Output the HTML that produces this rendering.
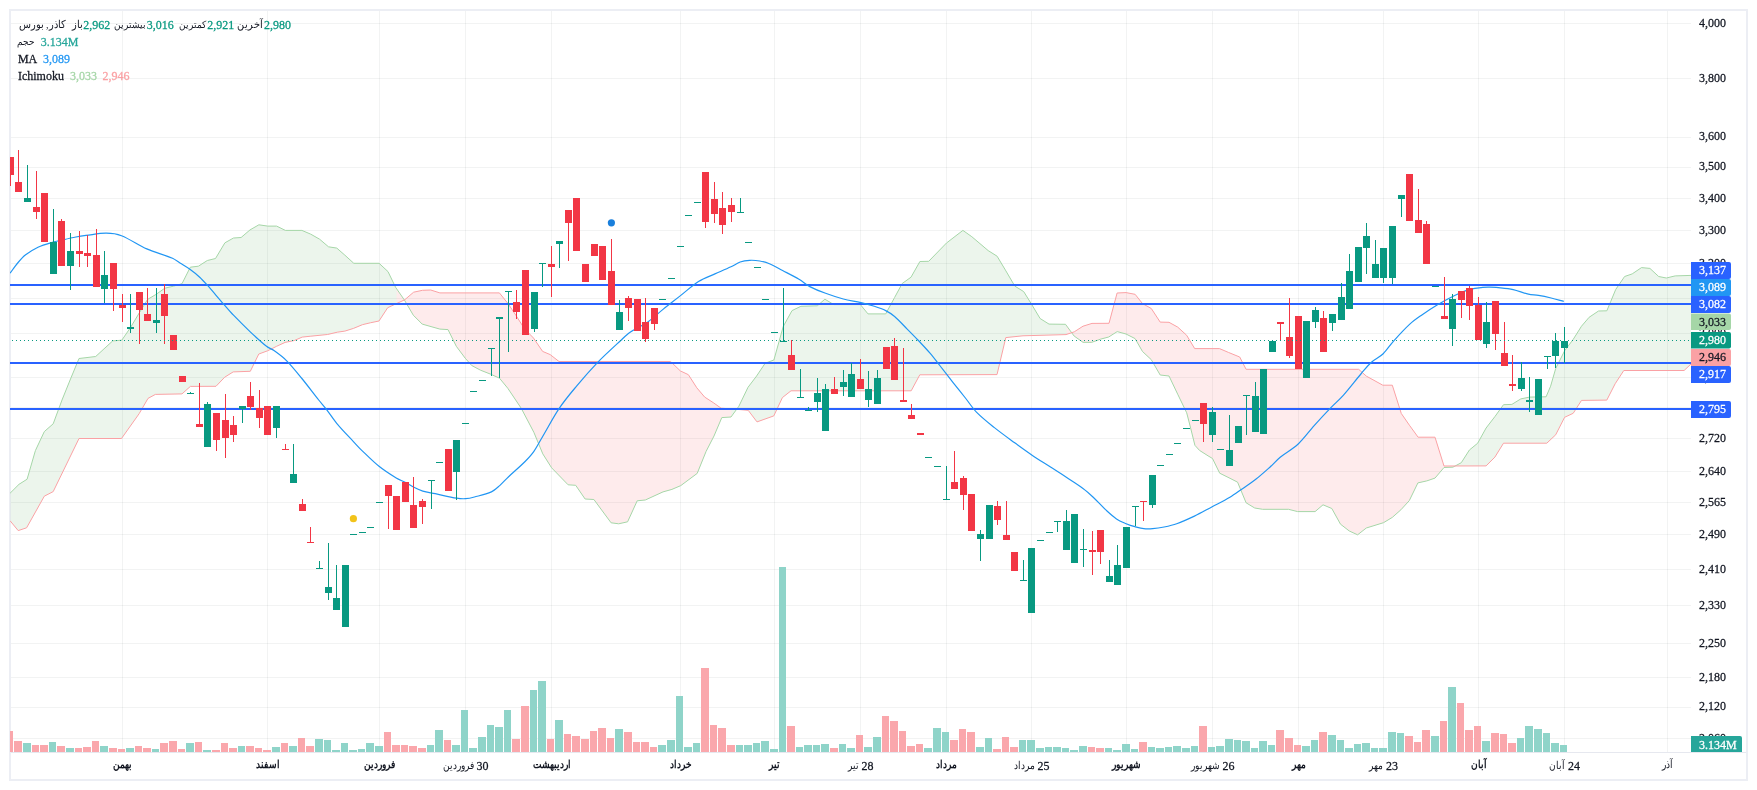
<!DOCTYPE html>
<html><head><meta charset="utf-8"><title>chart</title>
<style>
html,body{margin:0;padding:0;background:#fff;}
body{width:1757px;height:790px;position:relative;overflow:hidden;font-family:"Liberation Serif",serif;}
.lg,.tl{position:absolute;left:0;top:0;width:1757px;height:790px;will-change:transform;}
.lg span{position:absolute;font:12px/14px "Liberation Serif",serif;white-space:nowrap;unicode-bidi:isolate;}
.tl div{position:absolute;width:120px;text-align:center;font:12px/14px "Liberation Serif",serif;white-space:nowrap;color:#131722;direction:ltr;}
.lg span.n,.tl i.n{transform:scaleY(1.11);transform-origin:0 11px;-webkit-text-stroke:0.25px;}
.tl i{font-style:normal;unicode-bidi:isolate;display:inline-block;}
</style></head><body>
<svg width="1757" height="790" viewBox="0 0 1757 790" style="position:absolute;left:0;top:0;will-change:transform">
<defs><clipPath id="pc"><rect x="10" y="11" width="1681" height="741"/></clipPath></defs>
<rect x="10" y="10" width="1737" height="770" fill="none" stroke="#eceef4" stroke-width="2" shape-rendering="crispEdges"/>
<g shape-rendering="crispEdges" fill="rgba(42,46,57,0.06)">
<rect x="11" y="23" width="1680" height="1"/>
<rect x="11" y="78" width="1680" height="1"/>
<rect x="11" y="137" width="1680" height="1"/>
<rect x="11" y="167" width="1680" height="1"/>
<rect x="11" y="198" width="1680" height="1"/>
<rect x="11" y="230" width="1680" height="1"/>
<rect x="11" y="263" width="1680" height="1"/>
<rect x="11" y="298" width="1680" height="1"/>
<rect x="11" y="333" width="1680" height="1"/>
<rect x="11" y="377" width="1680" height="1"/>
<rect x="11" y="407" width="1680" height="1"/>
<rect x="11" y="438" width="1680" height="1"/>
<rect x="11" y="471" width="1680" height="1"/>
<rect x="11" y="502" width="1680" height="1"/>
<rect x="11" y="534" width="1680" height="1"/>
<rect x="11" y="569" width="1680" height="1"/>
<rect x="11" y="605" width="1680" height="1"/>
<rect x="11" y="643" width="1680" height="1"/>
<rect x="11" y="677" width="1680" height="1"/>
<rect x="11" y="707" width="1680" height="1"/>
<rect x="11" y="738" width="1680" height="1"/>
<rect x="122" y="11" width="1" height="741"/>
<rect x="267" y="11" width="1" height="741"/>
<rect x="379" y="11" width="1" height="741"/>
<rect x="465" y="11" width="1" height="741"/>
<rect x="551" y="11" width="1" height="741"/>
<rect x="680" y="11" width="1" height="741"/>
<rect x="774" y="11" width="1" height="741"/>
<rect x="860" y="11" width="1" height="741"/>
<rect x="946" y="11" width="1" height="741"/>
<rect x="1031" y="11" width="1" height="741"/>
<rect x="1126" y="11" width="1" height="741"/>
<rect x="1212" y="11" width="1" height="741"/>
<rect x="1298" y="11" width="1" height="741"/>
<rect x="1383" y="11" width="1" height="741"/>
<rect x="1478" y="11" width="1" height="741"/>
<rect x="1564" y="11" width="1" height="741"/>
<rect x="1667" y="11" width="1" height="741"/>
</g>
<rect x="11" y="752" width="1735" height="1" fill="#e6e8ef" shape-rendering="crispEdges"/>
<g clip-path="url(#pc)">
<polygon points="10.5,492.8 19.0,484.3 27.1,479.2 35.4,450.6 44.3,431.6 53.2,423.8 62.0,400.0 70.5,379.0 79.0,358.5 95.7,356.5 112.7,340.9 121.8,340.2 130.4,327.7 139.5,312.5 147.6,299.4 156.2,294.3 164.8,288.2 173.4,286.2 182.0,283.7 190.3,267.2 198.4,266.2 207.3,260.5 215.5,258.5 224.9,242.8 233.5,238.0 241.1,237.5 250.0,229.9 258.9,224.8 267.7,226.1 276.6,226.1 285.4,230.4 301.9,230.4 310.8,234.2 319.6,239.2 328.5,246.8 336.8,248.1 344.9,255.2 353.8,263.3 379.1,263.3 388.0,271.6 395.6,287.3 396.5,288.6 396.5,303.6 387.7,307.7 379.0,321.0 370.3,322.8 362.4,324.7 353.5,328.4 344.9,331.1 337.3,332.2 327.5,334.5 310.8,336.2 302.2,337.1 294.3,340.5 285.1,342.4 276.6,346.3 267.6,350.8 258.8,354.0 250.3,371.3 233.2,371.9 224.7,377.2 216.0,386.3 190.4,386.4 182.0,393.9 155.4,394.4 148.0,398.4 139.2,413.6 121.5,438.5 79.0,438.5 53.2,491.6 44.3,496.2 26.6,527.8 18.2,530.6 10.5,521.3" fill="#43a047" fill-opacity="0.1"/>
<polygon points="396.5,288.6 404.4,300.0 413.3,315.2 422.2,324.1 431.0,326.6 439.9,329.1 448.0,329.6 456.3,346.3 465.2,358.2 471.7,365.5 480.5,370.2 490.7,374.2 499.5,378.2 507.8,388.3 521.3,408.4 533.9,432.4 542.8,453.9 551.6,467.8 568.1,484.8 575.7,485.3 585.1,499.0 593.9,499.5 611.1,522.8 618.7,523.8 627.6,521.8 637.2,500.8 645.3,500.0 663.0,491.9 671.9,489.4 680.8,485.6 697.2,473.4 706.1,451.4 714.0,436.0 721.8,417.6 731.0,417.0 731.5,416.3 731.5,408.9 730.0,408.8 721.1,408.2 713.2,402.6 704.7,397.1 696.8,387.8 688.4,374.7 680.3,370.9 670.6,361.5 559.0,361.5 550.2,354.6 542.6,351.4 533.5,338.0 524.7,329.1 515.8,315.2 508.2,303.8 499.4,292.9 439.9,292.9 430.7,290.0 422.5,290.3 413.6,292.2 404.7,299.8 396.5,303.6" fill="#f23645" fill-opacity="0.1"/>
<polygon points="731.5,416.3 738.9,406.2 748.0,387.3 756.6,376.0 765.2,363.2 773.9,360.0 783.2,326.6 792.0,310.6 800.9,306.3 817.3,305.8 824.9,299.2 833.8,304.6 860.4,304.6 868.0,313.9 885.7,313.9 894.6,297.5 902.2,283.5 911.0,277.2 919.9,261.5 928.7,261.3 946.5,243.0 962.9,230.4 971.8,236.7 988.2,250.6 997.1,256.2 1005.9,270.9 1014.8,286.1 1023.7,291.6 1031.3,303.8 1040.1,318.5 1049.0,324.1 1065.5,324.3 1066.5,325.7 1066.5,334.4 1066.0,334.6 1023.0,335.8 1005.8,337.6 997.0,374.6 919.8,374.8 911.2,390.8 791.0,390.8 782.4,397.6 773.8,415.9 757.0,421.9 748.2,410.3 739.0,409.5 731.5,408.9" fill="#43a047" fill-opacity="0.1"/>
<polygon points="1066.5,325.7 1074.1,336.0 1083.0,342.3 1091.8,342.3 1100.7,339.1 1108.7,337.0 1117.2,331.6 1126.0,334.0 1135.1,338.6 1142.5,351.5 1151.3,359.7 1160.2,375.0 1169.0,376.0 1177.7,394.2 1186.7,412.8 1190.4,427.1 1194.9,445.3 1199.5,450.4 1208.0,455.8 1212.5,458.5 1219.7,473.2 1230.0,478.3 1237.6,482.2 1246.1,502.8 1254.7,508.0 1262.7,509.3 1288.5,509.3 1297.6,511.6 1315.1,511.6 1323.0,504.8 1331.8,508.5 1340.5,524.2 1349.3,531.0 1357.6,534.8 1366.3,528.0 1383.5,522.7 1392.3,517.4 1400.9,509.8 1409.3,500.6 1417.9,482.9 1426.8,480.9 1435.0,478.1 1444.0,467.5 1452.5,467.2 1452.5,466.0 1444.0,466.0 1435.0,437.2 1418.1,437.2 1409.4,425.2 1401.3,413.5 1392.3,385.2 1382.8,385.2 1366.3,376.1 1358.7,369.3 1246.1,369.3 1239.7,357.0 1228.4,352.4 1219.5,348.6 1194.7,348.6 1186.6,335.2 1177.7,327.1 1169.0,322.3 1160.2,322.1 1151.3,308.5 1142.5,303.6 1135.1,294.3 1126.0,292.6 1117.1,293.0 1109.0,323.3 1092.0,323.4 1083.0,326.2 1074.3,331.8 1066.5,334.4" fill="#f23645" fill-opacity="0.1"/>
<polygon points="1452.5,467.2 1452.9,467.2 1461.3,462.7 1469.4,450.0 1477.7,443.2 1486.1,428.0 1494.9,416.6 1503.5,404.7 1511.9,404.4 1520.8,398.9 1529.6,397.1 1546.1,396.8 1550.6,386.2 1555.7,368.5 1564.6,350.8 1573.2,339.4 1581.5,326.2 1589.1,317.3 1598.5,311.0 1606.8,310.8 1610.6,301.8 1615.7,289.5 1624.6,276.5 1632.2,273.9 1641.5,267.6 1649.9,268.4 1658.7,276.5 1666.3,278.0 1675.2,275.9 1691.1,275.4 1691.5,275.4 1691.5,363.9 1691.1,363.9 1684.1,370.5 1623.8,370.5 1615.2,383.7 1606.8,400.1 1581.5,400.4 1573.2,413.3 1564.6,417.3 1555.7,434.8 1546.8,443.2 1503.5,443.2 1494.9,457.1 1486.1,465.9 1452.5,466.0" fill="#43a047" fill-opacity="0.1"/>
<polyline fill="none" stroke="#a5d6a7" stroke-width="1" points="10.1,493.2 19.0,484.3 27.1,479.2 35.4,450.6 44.3,431.6 53.2,423.8 62.0,400.0 70.5,379.0 79.0,358.5 95.7,356.5 112.7,340.9 121.8,340.2 130.4,327.7 139.5,312.5 147.6,299.4 156.2,294.3 164.8,288.2 173.4,286.2 182.0,283.7 190.3,267.2 198.4,266.2 207.3,260.5 215.5,258.5 224.9,242.8 233.5,238.0 241.1,237.5 250.0,229.9 258.9,224.8 267.7,226.1 276.6,226.1 285.4,230.4 301.9,230.4 310.8,234.2 319.6,239.2 328.5,246.8 336.8,248.1 344.9,255.2 353.8,263.3 379.1,263.3 388.0,271.6 395.6,287.3 404.4,300.0 413.3,315.2 422.2,324.1 431.0,326.6 439.9,329.1 448.0,329.6 456.3,346.3 465.2,358.2 471.7,365.5 480.5,370.2 490.7,374.2 499.5,378.2 507.8,388.3 521.3,408.4 533.9,432.4 542.8,453.9 551.6,467.8 568.1,484.8 575.7,485.3 585.1,499.0 593.9,499.5 611.1,522.8 618.7,523.8 627.6,521.8 637.2,500.8 645.3,500.0 663.0,491.9 671.9,489.4 680.8,485.6 697.2,473.4 706.1,451.4 714.0,436.0 721.8,417.6 731.0,417.0 738.9,406.2 748.0,387.3 756.6,376.0 765.2,363.2 773.9,360.0 783.2,326.6 792.0,310.6 800.9,306.3 817.3,305.8 824.9,299.2 833.8,304.6 860.4,304.6 868.0,313.9 885.7,313.9 894.6,297.5 902.2,283.5 911.0,277.2 919.9,261.5 928.7,261.3 946.5,243.0 962.9,230.4 971.8,236.7 988.2,250.6 997.1,256.2 1005.9,270.9 1014.8,286.1 1023.7,291.6 1031.3,303.8 1040.1,318.5 1049.0,324.1 1065.5,324.3 1074.1,336.0 1083.0,342.3 1091.8,342.3 1100.7,339.1 1108.7,337.0 1117.2,331.6 1126.0,334.0 1135.1,338.6 1142.5,351.5 1151.3,359.7 1160.2,375.0 1169.0,376.0 1177.7,394.2 1186.7,412.8 1190.4,427.1 1194.9,445.3 1199.5,450.4 1208.0,455.8 1212.5,458.5 1219.7,473.2 1230.0,478.3 1237.6,482.2 1246.1,502.8 1254.7,508.0 1262.7,509.3 1288.5,509.3 1297.6,511.6 1315.1,511.6 1323.0,504.8 1331.8,508.5 1340.5,524.2 1349.3,531.0 1357.6,534.8 1366.3,528.0 1383.5,522.7 1392.3,517.4 1400.9,509.8 1409.3,500.6 1417.9,482.9 1426.8,480.9 1435.0,478.1 1444.0,467.5 1452.9,467.2 1461.3,462.7 1469.4,450.0 1477.7,443.2 1486.1,428.0 1494.9,416.6 1503.5,404.7 1511.9,404.4 1520.8,398.9 1529.6,397.1 1546.1,396.8 1550.6,386.2 1555.7,368.5 1564.6,350.8 1573.2,339.4 1581.5,326.2 1589.1,317.3 1598.5,311.0 1606.8,310.8 1610.6,301.8 1615.7,289.5 1624.6,276.5 1632.2,273.9 1641.5,267.6 1649.9,268.4 1658.7,276.5 1666.3,278.0 1675.2,275.9 1691.1,275.4"/>
<polyline fill="none" stroke="#faa1a4" stroke-width="1" points="10.1,520.8 18.2,530.6 26.6,527.8 44.3,496.2 53.2,491.6 79.0,438.5 121.5,438.5 139.2,413.6 148.0,398.4 155.4,394.4 182.0,393.9 190.4,386.4 216.0,386.3 224.7,377.2 233.2,371.9 250.3,371.3 258.8,354.0 267.6,350.8 276.6,346.3 285.1,342.4 294.3,340.5 302.2,337.1 310.8,336.2 327.5,334.5 337.3,332.2 344.9,331.1 353.5,328.4 362.4,324.7 370.3,322.8 379.0,321.0 387.7,307.7 404.7,299.8 413.6,292.2 422.5,290.3 430.7,290.0 439.9,292.9 499.4,292.9 508.2,303.8 515.8,315.2 524.7,329.1 533.5,338.0 542.6,351.4 550.2,354.6 559.0,361.5 670.6,361.5 680.3,370.9 688.4,374.7 696.8,387.8 704.7,397.1 713.2,402.6 721.1,408.2 730.0,408.8 739.0,409.5 748.2,410.3 757.0,421.9 773.8,415.9 782.4,397.6 791.0,390.8 911.2,390.8 919.8,374.8 997.0,374.6 1005.8,337.6 1023.0,335.8 1066.0,334.6 1074.3,331.8 1083.0,326.2 1092.0,323.4 1109.0,323.3 1117.1,293.0 1126.0,292.6 1135.1,294.3 1142.5,303.6 1151.3,308.5 1160.2,322.1 1169.0,322.3 1177.7,327.1 1186.6,335.2 1194.7,348.6 1219.5,348.6 1228.4,352.4 1239.7,357.0 1246.1,369.3 1358.7,369.3 1366.3,376.1 1382.8,385.2 1392.3,385.2 1401.3,413.5 1409.4,425.2 1418.1,437.2 1435.0,437.2 1444.0,466.0 1486.1,465.9 1494.9,457.1 1503.5,443.2 1546.8,443.2 1555.7,434.8 1564.6,417.3 1573.2,413.3 1581.5,400.4 1606.8,400.1 1615.2,383.7 1623.8,370.5 1684.1,370.5 1691.1,363.9"/>
<g shape-rendering="crispEdges">
<rect x="6" y="731" width="7" height="21" fill="#faa7ac"/>
<rect x="14" y="741" width="8" height="11" fill="#faa7ac"/>
<rect x="23" y="743" width="8" height="9" fill="#8fd4c9"/>
<rect x="32" y="745" width="7" height="7" fill="#faa7ac"/>
<rect x="40" y="745" width="8" height="7" fill="#faa7ac"/>
<rect x="49" y="742" width="7" height="10" fill="#8fd4c9"/>
<rect x="57" y="746" width="8" height="6" fill="#faa7ac"/>
<rect x="66" y="748" width="8" height="4" fill="#8fd4c9"/>
<rect x="75" y="748" width="7" height="4" fill="#faa7ac"/>
<rect x="83" y="747" width="8" height="5" fill="#faa7ac"/>
<rect x="92" y="741" width="7" height="11" fill="#faa7ac"/>
<rect x="100" y="746" width="8" height="6" fill="#8fd4c9"/>
<rect x="109" y="748" width="8" height="4" fill="#faa7ac"/>
<rect x="118" y="749" width="7" height="3" fill="#faa7ac"/>
<rect x="126" y="748" width="8" height="4" fill="#8fd4c9"/>
<rect x="135" y="746" width="7" height="6" fill="#faa7ac"/>
<rect x="143" y="748" width="8" height="4" fill="#faa7ac"/>
<rect x="152" y="749" width="7" height="3" fill="#8fd4c9"/>
<rect x="160" y="743" width="8" height="9" fill="#faa7ac"/>
<rect x="169" y="741" width="8" height="11" fill="#faa7ac"/>
<rect x="178" y="749" width="7" height="3" fill="#faa7ac"/>
<rect x="186" y="743" width="8" height="9" fill="#8fd4c9"/>
<rect x="195" y="742" width="7" height="10" fill="#faa7ac"/>
<rect x="203" y="750" width="8" height="2" fill="#8fd4c9"/>
<rect x="212" y="750" width="8" height="2" fill="#faa7ac"/>
<rect x="221" y="743" width="7" height="9" fill="#faa7ac"/>
<rect x="229" y="748" width="8" height="4" fill="#faa7ac"/>
<rect x="238" y="746" width="7" height="6" fill="#8fd4c9"/>
<rect x="246" y="746" width="8" height="6" fill="#faa7ac"/>
<rect x="255" y="748" width="7" height="4" fill="#faa7ac"/>
<rect x="263" y="750" width="8" height="2" fill="#faa7ac"/>
<rect x="272" y="747" width="8" height="5" fill="#8fd4c9"/>
<rect x="281" y="743" width="7" height="9" fill="#faa7ac"/>
<rect x="289" y="746" width="8" height="6" fill="#8fd4c9"/>
<rect x="298" y="738" width="7" height="14" fill="#faa7ac"/>
<rect x="306" y="746" width="8" height="6" fill="#faa7ac"/>
<rect x="315" y="739" width="8" height="13" fill="#8fd4c9"/>
<rect x="324" y="740" width="7" height="12" fill="#8fd4c9"/>
<rect x="332" y="750" width="8" height="2" fill="#8fd4c9"/>
<rect x="341" y="743" width="7" height="9" fill="#8fd4c9"/>
<rect x="349" y="750" width="8" height="2" fill="#8fd4c9"/>
<rect x="358" y="749" width="7" height="3" fill="#8fd4c9"/>
<rect x="366" y="743" width="8" height="9" fill="#8fd4c9"/>
<rect x="375" y="746" width="8" height="6" fill="#8fd4c9"/>
<rect x="384" y="732" width="7" height="20" fill="#faa7ac"/>
<rect x="392" y="745" width="8" height="7" fill="#faa7ac"/>
<rect x="401" y="745" width="7" height="7" fill="#faa7ac"/>
<rect x="409" y="746" width="8" height="6" fill="#faa7ac"/>
<rect x="418" y="748" width="8" height="4" fill="#faa7ac"/>
<rect x="427" y="745" width="7" height="7" fill="#8fd4c9"/>
<rect x="435" y="730" width="8" height="22" fill="#8fd4c9"/>
<rect x="444" y="740" width="7" height="12" fill="#faa7ac"/>
<rect x="452" y="745" width="8" height="7" fill="#8fd4c9"/>
<rect x="461" y="710" width="7" height="42" fill="#8fd4c9"/>
<rect x="469" y="748" width="8" height="4" fill="#8fd4c9"/>
<rect x="478" y="737" width="8" height="15" fill="#8fd4c9"/>
<rect x="487" y="725" width="7" height="27" fill="#8fd4c9"/>
<rect x="495" y="727" width="8" height="25" fill="#8fd4c9"/>
<rect x="504" y="710" width="7" height="42" fill="#8fd4c9"/>
<rect x="512" y="739" width="8" height="13" fill="#faa7ac"/>
<rect x="521" y="706" width="8" height="46" fill="#faa7ac"/>
<rect x="530" y="690" width="7" height="62" fill="#8fd4c9"/>
<rect x="538" y="681" width="8" height="71" fill="#8fd4c9"/>
<rect x="547" y="739" width="7" height="13" fill="#faa7ac"/>
<rect x="555" y="720" width="8" height="32" fill="#8fd4c9"/>
<rect x="564" y="734" width="7" height="18" fill="#faa7ac"/>
<rect x="572" y="736" width="8" height="16" fill="#faa7ac"/>
<rect x="581" y="739" width="8" height="13" fill="#faa7ac"/>
<rect x="590" y="731" width="7" height="21" fill="#faa7ac"/>
<rect x="598" y="728" width="8" height="24" fill="#faa7ac"/>
<rect x="607" y="738" width="7" height="14" fill="#faa7ac"/>
<rect x="615" y="729" width="8" height="23" fill="#8fd4c9"/>
<rect x="624" y="732" width="8" height="20" fill="#faa7ac"/>
<rect x="633" y="742" width="7" height="10" fill="#faa7ac"/>
<rect x="641" y="742" width="8" height="10" fill="#faa7ac"/>
<rect x="650" y="747" width="7" height="5" fill="#faa7ac"/>
<rect x="658" y="745" width="8" height="7" fill="#8fd4c9"/>
<rect x="667" y="740" width="8" height="12" fill="#8fd4c9"/>
<rect x="676" y="696" width="7" height="56" fill="#8fd4c9"/>
<rect x="684" y="747" width="8" height="5" fill="#8fd4c9"/>
<rect x="693" y="743" width="7" height="9" fill="#8fd4c9"/>
<rect x="701" y="668" width="8" height="84" fill="#faa7ac"/>
<rect x="710" y="725" width="7" height="27" fill="#faa7ac"/>
<rect x="718" y="728" width="8" height="24" fill="#faa7ac"/>
<rect x="727" y="745" width="8" height="7" fill="#faa7ac"/>
<rect x="736" y="745" width="7" height="7" fill="#8fd4c9"/>
<rect x="744" y="745" width="8" height="7" fill="#8fd4c9"/>
<rect x="753" y="743" width="7" height="9" fill="#8fd4c9"/>
<rect x="761" y="741" width="8" height="11" fill="#8fd4c9"/>
<rect x="770" y="749" width="8" height="3" fill="#8fd4c9"/>
<rect x="779" y="567" width="7" height="185" fill="#8fd4c9"/>
<rect x="787" y="726" width="8" height="26" fill="#faa7ac"/>
<rect x="796" y="747" width="7" height="5" fill="#8fd4c9"/>
<rect x="804" y="745" width="8" height="7" fill="#8fd4c9"/>
<rect x="813" y="745" width="7" height="7" fill="#8fd4c9"/>
<rect x="821" y="744" width="8" height="8" fill="#8fd4c9"/>
<rect x="830" y="748" width="8" height="4" fill="#faa7ac"/>
<rect x="839" y="744" width="7" height="8" fill="#8fd4c9"/>
<rect x="847" y="748" width="8" height="4" fill="#8fd4c9"/>
<rect x="856" y="735" width="7" height="17" fill="#faa7ac"/>
<rect x="864" y="747" width="8" height="5" fill="#8fd4c9"/>
<rect x="873" y="737" width="8" height="15" fill="#8fd4c9"/>
<rect x="882" y="716" width="7" height="36" fill="#faa7ac"/>
<rect x="890" y="721" width="8" height="31" fill="#faa7ac"/>
<rect x="899" y="731" width="7" height="21" fill="#faa7ac"/>
<rect x="907" y="746" width="8" height="6" fill="#faa7ac"/>
<rect x="916" y="744" width="7" height="8" fill="#faa7ac"/>
<rect x="924" y="748" width="8" height="4" fill="#8fd4c9"/>
<rect x="933" y="728" width="8" height="24" fill="#8fd4c9"/>
<rect x="942" y="732" width="7" height="20" fill="#8fd4c9"/>
<rect x="950" y="740" width="8" height="12" fill="#faa7ac"/>
<rect x="959" y="729" width="7" height="23" fill="#faa7ac"/>
<rect x="967" y="732" width="8" height="20" fill="#faa7ac"/>
<rect x="976" y="747" width="8" height="5" fill="#8fd4c9"/>
<rect x="985" y="738" width="7" height="14" fill="#8fd4c9"/>
<rect x="993" y="749" width="8" height="3" fill="#faa7ac"/>
<rect x="1002" y="737" width="7" height="15" fill="#faa7ac"/>
<rect x="1010" y="747" width="8" height="5" fill="#faa7ac"/>
<rect x="1019" y="740" width="7" height="12" fill="#8fd4c9"/>
<rect x="1027" y="740" width="8" height="12" fill="#8fd4c9"/>
<rect x="1036" y="748" width="8" height="4" fill="#8fd4c9"/>
<rect x="1045" y="747" width="7" height="5" fill="#8fd4c9"/>
<rect x="1053" y="747" width="8" height="5" fill="#8fd4c9"/>
<rect x="1062" y="748" width="7" height="4" fill="#8fd4c9"/>
<rect x="1070" y="750" width="8" height="2" fill="#8fd4c9"/>
<rect x="1079" y="746" width="8" height="6" fill="#8fd4c9"/>
<rect x="1088" y="747" width="7" height="5" fill="#faa7ac"/>
<rect x="1096" y="748" width="8" height="4" fill="#faa7ac"/>
<rect x="1105" y="748" width="7" height="4" fill="#8fd4c9"/>
<rect x="1113" y="750" width="8" height="2" fill="#8fd4c9"/>
<rect x="1122" y="744" width="8" height="8" fill="#8fd4c9"/>
<rect x="1131" y="749" width="7" height="3" fill="#8fd4c9"/>
<rect x="1139" y="742" width="8" height="10" fill="#faa7ac"/>
<rect x="1148" y="747" width="7" height="5" fill="#8fd4c9"/>
<rect x="1156" y="748" width="8" height="4" fill="#8fd4c9"/>
<rect x="1165" y="747" width="7" height="5" fill="#8fd4c9"/>
<rect x="1173" y="746" width="8" height="6" fill="#8fd4c9"/>
<rect x="1182" y="748" width="8" height="4" fill="#8fd4c9"/>
<rect x="1191" y="746" width="7" height="6" fill="#8fd4c9"/>
<rect x="1199" y="726" width="8" height="26" fill="#faa7ac"/>
<rect x="1208" y="747" width="7" height="5" fill="#8fd4c9"/>
<rect x="1216" y="746" width="8" height="6" fill="#8fd4c9"/>
<rect x="1225" y="739" width="8" height="13" fill="#8fd4c9"/>
<rect x="1234" y="740" width="7" height="12" fill="#8fd4c9"/>
<rect x="1242" y="741" width="8" height="11" fill="#8fd4c9"/>
<rect x="1251" y="748" width="7" height="4" fill="#8fd4c9"/>
<rect x="1259" y="741" width="8" height="11" fill="#8fd4c9"/>
<rect x="1268" y="745" width="7" height="7" fill="#8fd4c9"/>
<rect x="1276" y="730" width="8" height="22" fill="#faa7ac"/>
<rect x="1285" y="738" width="8" height="14" fill="#faa7ac"/>
<rect x="1294" y="745" width="7" height="7" fill="#faa7ac"/>
<rect x="1302" y="746" width="8" height="6" fill="#8fd4c9"/>
<rect x="1311" y="740" width="7" height="12" fill="#8fd4c9"/>
<rect x="1319" y="732" width="8" height="20" fill="#faa7ac"/>
<rect x="1328" y="735" width="8" height="17" fill="#8fd4c9"/>
<rect x="1337" y="740" width="7" height="12" fill="#8fd4c9"/>
<rect x="1345" y="748" width="8" height="4" fill="#8fd4c9"/>
<rect x="1354" y="744" width="7" height="8" fill="#8fd4c9"/>
<rect x="1362" y="743" width="8" height="9" fill="#8fd4c9"/>
<rect x="1371" y="748" width="7" height="4" fill="#8fd4c9"/>
<rect x="1379" y="748" width="8" height="4" fill="#8fd4c9"/>
<rect x="1388" y="732" width="8" height="20" fill="#8fd4c9"/>
<rect x="1397" y="733" width="7" height="19" fill="#8fd4c9"/>
<rect x="1405" y="736" width="8" height="16" fill="#faa7ac"/>
<rect x="1414" y="742" width="7" height="10" fill="#faa7ac"/>
<rect x="1422" y="730" width="8" height="22" fill="#faa7ac"/>
<rect x="1431" y="736" width="8" height="16" fill="#8fd4c9"/>
<rect x="1440" y="721" width="7" height="31" fill="#faa7ac"/>
<rect x="1448" y="687" width="8" height="65" fill="#8fd4c9"/>
<rect x="1457" y="703" width="7" height="49" fill="#faa7ac"/>
<rect x="1465" y="730" width="8" height="22" fill="#faa7ac"/>
<rect x="1474" y="726" width="7" height="26" fill="#faa7ac"/>
<rect x="1482" y="741" width="8" height="11" fill="#8fd4c9"/>
<rect x="1491" y="733" width="8" height="19" fill="#faa7ac"/>
<rect x="1500" y="734" width="7" height="18" fill="#faa7ac"/>
<rect x="1508" y="743" width="8" height="9" fill="#faa7ac"/>
<rect x="1517" y="738" width="7" height="14" fill="#8fd4c9"/>
<rect x="1525" y="726" width="8" height="26" fill="#8fd4c9"/>
<rect x="1534" y="729" width="8" height="23" fill="#8fd4c9"/>
<rect x="1543" y="733" width="7" height="19" fill="#8fd4c9"/>
<rect x="1551" y="743" width="8" height="9" fill="#8fd4c9"/>
<rect x="1560" y="745" width="7" height="7" fill="#8fd4c9"/>
</g>
<g shape-rendering="crispEdges" fill="#2962ff">
<rect x="10" y="284" width="1681" height="2"/>
<rect x="10" y="303" width="1681" height="2"/>
<rect x="10" y="362" width="1681" height="2"/>
<rect x="10" y="408" width="1681" height="2"/>
</g>
<path fill="none" stroke="#2196f3" stroke-width="1.2" d="M10.1 273.2C12.6 269.8 15.2 266.0 17.7 263.0C20.2 260.0 22.8 257.0 25.3 255.0C29.5 251.7 33.8 249.2 38.0 247.2C42.2 245.2 46.4 244.0 50.6 242.8C54.8 241.6 59.1 240.8 63.3 239.8C67.5 238.8 71.7 237.8 75.9 237.0C79.3 236.3 82.6 235.8 86.0 235.4C92.8 234.6 99.5 233.1 106.3 233.2C111.4 233.2 116.4 233.7 121.5 235.7C129.9 239.0 138.4 245.2 146.8 248.9C155.4 252.7 163.9 254.6 172.5 258.2C175.0 259.3 177.5 261.4 180.0 263.0C183.3 265.1 186.6 266.9 189.9 269.3C193.2 271.7 196.4 274.2 199.7 277.2C202.2 279.5 204.8 282.4 207.3 285.2C212.7 291.2 218.0 297.7 223.4 303.8C226.8 307.7 230.1 311.7 233.5 315.2C239.0 320.9 244.5 326.4 250.0 331.6C255.5 336.8 261.0 341.9 266.5 346.3C269.0 348.3 271.5 348.8 274.0 350.6C278.2 353.6 282.5 356.6 286.7 360.8C291.8 365.9 296.8 372.3 301.9 378.5C307.5 385.4 313.1 392.9 318.7 400.0C321.3 403.3 324.0 406.2 326.6 409.6C330.0 414.0 333.3 419.3 336.7 423.3C342.2 429.9 347.7 435.4 353.2 441.3C356.1 444.5 359.1 447.8 362.0 450.6C367.7 456.1 373.3 461.8 379.0 466.3C384.7 470.9 390.5 474.5 396.2 478.0C399.2 479.8 402.1 480.7 405.1 482.3C408.0 483.8 411.0 485.8 413.9 487.3C416.9 488.8 419.8 490.2 422.8 491.1C426.9 492.3 431.1 492.8 435.2 493.7C442.4 495.2 449.5 497.0 456.7 498.2C459.7 498.7 462.6 498.9 465.6 498.7C468.5 498.5 471.5 497.8 474.4 497.0C480.1 495.5 485.7 494.5 491.4 491.9C494.2 490.7 496.9 488.0 499.7 485.6C502.7 483.0 505.6 479.5 508.6 476.7C514.1 471.5 519.6 467.0 525.1 461.5C528.0 458.6 531.0 455.6 533.9 451.4C536.9 447.2 539.8 441.2 542.8 436.2C548.3 426.9 553.7 416.5 559.2 408.4C565.1 399.6 571.1 392.7 577.0 385.6C583.7 377.5 590.5 369.8 597.2 362.8C605.0 354.8 612.7 347.9 620.5 340.7C623.7 337.7 626.9 334.4 630.1 332.2C636.0 328.2 641.9 326.1 647.8 322.0C652.9 318.5 657.9 313.5 663.0 309.4C668.9 304.6 674.9 300.1 680.8 295.4C686.7 290.8 692.6 285.2 698.5 281.5C704.0 278.1 709.4 276.4 714.9 273.9C720.3 271.5 725.6 269.3 731.0 266.8C734.1 265.4 737.1 263.1 740.2 262.0C743.4 260.9 746.5 260.5 749.7 260.3C753.1 260.1 756.4 260.4 759.8 261.0C763.2 261.6 766.6 262.6 770.0 264.0C774.2 265.8 778.4 268.3 782.6 270.5C788.1 273.4 793.5 276.1 799.0 279.3C802.6 281.4 806.2 284.7 809.8 286.6C815.1 289.4 820.3 291.4 825.6 293.3C831.5 295.5 837.4 297.4 843.3 299.0C849.2 300.6 855.1 301.3 861.0 302.7C865.4 303.7 869.9 304.9 874.3 306.3C878.1 307.5 881.9 308.7 885.7 310.6C888.7 312.1 891.6 313.9 894.6 316.5C898.8 320.1 903.0 324.9 907.2 329.1C910.8 332.7 914.3 336.2 917.9 340.0C921.9 344.3 926.0 348.5 930.0 353.2C933.1 356.8 936.3 361.0 939.4 365.0C944.0 370.9 948.7 376.9 953.3 382.8C957.3 387.9 961.4 392.9 965.4 398.0C969.2 402.8 972.9 408.6 976.7 412.4C982.6 418.4 988.5 422.9 994.4 427.6C1001.2 433.0 1007.9 437.8 1014.7 442.8C1020.6 447.1 1026.5 451.4 1032.4 455.4C1038.3 459.4 1044.2 463.0 1050.1 466.8C1056.0 470.6 1061.9 474.3 1067.8 478.2C1072.9 481.5 1077.9 484.6 1083.0 488.4C1086.4 490.9 1089.8 494.0 1093.2 497.2C1097.4 501.2 1101.6 506.0 1105.8 509.9C1109.4 513.2 1112.9 516.5 1116.5 518.9C1119.7 521.1 1122.9 522.3 1126.1 523.7C1129.0 524.9 1132.0 525.9 1134.9 526.7C1137.9 527.5 1140.8 528.4 1143.8 528.7C1146.8 529.0 1149.7 528.9 1152.7 528.7C1156.5 528.4 1160.3 527.8 1164.1 527.0C1168.3 526.1 1172.5 525.2 1176.7 523.7C1182.6 521.6 1188.5 518.9 1194.4 516.1C1200.3 513.3 1206.3 509.8 1212.2 506.7C1218.1 503.6 1224.0 500.8 1229.9 497.3C1234.1 494.8 1238.3 491.6 1242.5 488.7C1247.1 485.5 1251.8 482.5 1256.4 478.8C1261.1 475.1 1265.7 470.9 1270.4 466.7C1273.7 463.7 1276.9 459.9 1280.2 457.2C1286.2 452.3 1292.2 449.6 1298.2 444.0C1303.6 439.0 1309.0 431.4 1314.4 425.4C1319.9 419.3 1325.4 413.4 1330.9 407.7C1335.1 403.3 1339.3 399.8 1343.5 395.1C1349.4 388.4 1355.4 380.5 1361.3 373.5C1364.7 369.5 1368.0 365.2 1371.4 362.2C1375.3 358.6 1379.3 357.5 1383.2 353.7C1386.7 350.3 1390.3 344.7 1393.8 340.8C1399.1 334.9 1404.5 329.0 1409.8 324.1C1413.8 320.4 1417.9 317.7 1421.9 314.9C1427.0 311.4 1432.0 308.2 1437.1 305.1C1440.7 302.9 1444.2 300.9 1447.8 299.0C1451.3 297.1 1454.9 295.2 1458.4 293.7C1462.5 291.9 1466.5 290.2 1470.6 289.1C1474.6 288.1 1478.7 287.8 1482.7 287.4C1485.1 287.2 1487.6 287.1 1490.0 287.2C1493.5 287.3 1497.0 287.4 1500.5 287.8C1504.7 288.2 1509.0 288.6 1513.2 289.6C1518.3 290.8 1523.3 293.0 1528.4 294.2C1531.8 295.0 1535.1 294.8 1538.5 295.4C1542.7 296.1 1546.9 297.0 1551.1 298.0C1555.3 299.0 1559.6 300.2 1563.8 301.3"/>
<g shape-rendering="crispEdges">
<rect x="10" y="157" width="1" height="29" fill="#f23645"/>
<rect x="7" y="157" width="7" height="18" fill="#f23645"/>
<rect x="18" y="150" width="1" height="42" fill="#f23645"/>
<rect x="15" y="182" width="7" height="10" fill="#f23645"/>
<rect x="27" y="165" width="1" height="37" fill="#089981"/>
<rect x="24" y="198" width="7" height="4" fill="#089981"/>
<rect x="36" y="171" width="1" height="48" fill="#f23645"/>
<rect x="33" y="207" width="7" height="5" fill="#f23645"/>
<rect x="41" y="193" width="7" height="49" fill="#f23645"/>
<rect x="53" y="209" width="1" height="65" fill="#089981"/>
<rect x="50" y="242" width="7" height="32" fill="#089981"/>
<rect x="61" y="219" width="1" height="47" fill="#f23645"/>
<rect x="58" y="221" width="7" height="45" fill="#f23645"/>
<rect x="70" y="233" width="1" height="57" fill="#089981"/>
<rect x="67" y="251" width="7" height="15" fill="#089981"/>
<rect x="79" y="231" width="1" height="36" fill="#f23645"/>
<rect x="76" y="251" width="7" height="3" fill="#f23645"/>
<rect x="87" y="235" width="1" height="32" fill="#f23645"/>
<rect x="84" y="253" width="7" height="3" fill="#f23645"/>
<rect x="96" y="229" width="1" height="58" fill="#f23645"/>
<rect x="93" y="255" width="7" height="32" fill="#f23645"/>
<rect x="104" y="251" width="1" height="52" fill="#089981"/>
<rect x="101" y="275" width="7" height="14" fill="#089981"/>
<rect x="113" y="263" width="1" height="48" fill="#f23645"/>
<rect x="110" y="263" width="7" height="26" fill="#f23645"/>
<rect x="122" y="294" width="1" height="28" fill="#f23645"/>
<rect x="119" y="305" width="7" height="3" fill="#f23645"/>
<rect x="130" y="294" width="1" height="39" fill="#089981"/>
<rect x="127" y="327" width="7" height="2" fill="#089981"/>
<rect x="139" y="292" width="1" height="52" fill="#f23645"/>
<rect x="136" y="292" width="7" height="18" fill="#f23645"/>
<rect x="147" y="288" width="1" height="33" fill="#f23645"/>
<rect x="144" y="314" width="7" height="7" fill="#f23645"/>
<rect x="156" y="288" width="1" height="45" fill="#089981"/>
<rect x="153" y="320" width="7" height="3" fill="#089981"/>
<rect x="164" y="284" width="1" height="60" fill="#f23645"/>
<rect x="161" y="294" width="7" height="22" fill="#f23645"/>
<rect x="170" y="335" width="7" height="15" fill="#f23645"/>
<rect x="179" y="376" width="7" height="6" fill="#f23645"/>
<rect x="190" y="392" width="1" height="2" fill="#089981"/>
<rect x="187" y="393" width="7" height="1" fill="#089981"/>
<rect x="199" y="383" width="1" height="44" fill="#f23645"/>
<rect x="196" y="424" width="7" height="3" fill="#f23645"/>
<rect x="207" y="402" width="1" height="45" fill="#089981"/>
<rect x="204" y="404" width="7" height="43" fill="#089981"/>
<rect x="216" y="413" width="1" height="38" fill="#f23645"/>
<rect x="213" y="413" width="7" height="27" fill="#f23645"/>
<rect x="225" y="394" width="1" height="64" fill="#f23645"/>
<rect x="222" y="420" width="7" height="18" fill="#f23645"/>
<rect x="233" y="416" width="1" height="26" fill="#f23645"/>
<rect x="230" y="425" width="7" height="10" fill="#f23645"/>
<rect x="242" y="406" width="1" height="17" fill="#089981"/>
<rect x="239" y="406" width="7" height="3" fill="#089981"/>
<rect x="250" y="382" width="1" height="28" fill="#f23645"/>
<rect x="247" y="396" width="7" height="11" fill="#f23645"/>
<rect x="259" y="390" width="1" height="38" fill="#f23645"/>
<rect x="256" y="408" width="7" height="10" fill="#f23645"/>
<rect x="264" y="406" width="7" height="29" fill="#f23645"/>
<rect x="276" y="406" width="1" height="32" fill="#089981"/>
<rect x="273" y="406" width="7" height="22" fill="#089981"/>
<rect x="285" y="444" width="1" height="6" fill="#f23645"/>
<rect x="282" y="449" width="7" height="1" fill="#f23645"/>
<rect x="293" y="444" width="1" height="39" fill="#089981"/>
<rect x="290" y="474" width="7" height="9" fill="#089981"/>
<rect x="302" y="499" width="1" height="12" fill="#f23645"/>
<rect x="299" y="504" width="7" height="7" fill="#f23645"/>
<rect x="310" y="527" width="1" height="16" fill="#f23645"/>
<rect x="307" y="542" width="7" height="1" fill="#f23645"/>
<rect x="319" y="561" width="1" height="8" fill="#089981"/>
<rect x="316" y="568" width="7" height="1" fill="#089981"/>
<rect x="328" y="543" width="1" height="57" fill="#089981"/>
<rect x="325" y="587" width="7" height="6" fill="#089981"/>
<rect x="336" y="565" width="1" height="45" fill="#089981"/>
<rect x="333" y="598" width="7" height="12" fill="#089981"/>
<rect x="342" y="565" width="7" height="62" fill="#089981"/>
<rect x="350" y="534" width="7" height="1" fill="#089981"/>
<rect x="359" y="532" width="7" height="1" fill="#089981"/>
<rect x="367" y="527" width="7" height="1" fill="#089981"/>
<rect x="376" y="502" width="7" height="1" fill="#089981"/>
<rect x="388" y="485" width="1" height="44" fill="#f23645"/>
<rect x="385" y="485" width="7" height="11" fill="#f23645"/>
<rect x="393" y="496" width="7" height="34" fill="#f23645"/>
<rect x="402" y="482" width="7" height="20" fill="#f23645"/>
<rect x="413" y="477" width="1" height="51" fill="#f23645"/>
<rect x="410" y="505" width="7" height="23" fill="#f23645"/>
<rect x="422" y="499" width="1" height="25" fill="#f23645"/>
<rect x="419" y="501" width="7" height="6" fill="#f23645"/>
<rect x="431" y="480" width="1" height="29" fill="#089981"/>
<rect x="428" y="480" width="7" height="1" fill="#089981"/>
<rect x="436" y="462" width="7" height="1" fill="#089981"/>
<rect x="445" y="449" width="7" height="42" fill="#f23645"/>
<rect x="456" y="440" width="1" height="60" fill="#089981"/>
<rect x="453" y="440" width="7" height="32" fill="#089981"/>
<rect x="462" y="423" width="7" height="1" fill="#089981"/>
<rect x="470" y="391" width="7" height="1" fill="#089981"/>
<rect x="479" y="380" width="7" height="1" fill="#089981"/>
<rect x="491" y="348" width="1" height="28" fill="#089981"/>
<rect x="488" y="348" width="7" height="1" fill="#089981"/>
<rect x="499" y="317" width="1" height="61" fill="#089981"/>
<rect x="496" y="317" width="7" height="2" fill="#089981"/>
<rect x="508" y="291" width="1" height="61" fill="#089981"/>
<rect x="505" y="291" width="7" height="1" fill="#089981"/>
<rect x="516" y="290" width="1" height="29" fill="#f23645"/>
<rect x="513" y="302" width="7" height="10" fill="#f23645"/>
<rect x="522" y="270" width="7" height="65" fill="#f23645"/>
<rect x="534" y="292" width="1" height="40" fill="#089981"/>
<rect x="531" y="292" width="7" height="37" fill="#089981"/>
<rect x="542" y="263" width="1" height="24" fill="#089981"/>
<rect x="539" y="263" width="7" height="1" fill="#089981"/>
<rect x="551" y="246" width="1" height="51" fill="#f23645"/>
<rect x="548" y="264" width="7" height="3" fill="#f23645"/>
<rect x="559" y="241" width="1" height="27" fill="#089981"/>
<rect x="556" y="241" width="7" height="3" fill="#089981"/>
<rect x="568" y="210" width="1" height="51" fill="#f23645"/>
<rect x="565" y="210" width="7" height="13" fill="#f23645"/>
<rect x="573" y="198" width="7" height="53" fill="#f23645"/>
<rect x="582" y="264" width="7" height="18" fill="#f23645"/>
<rect x="591" y="244" width="7" height="12" fill="#f23645"/>
<rect x="599" y="246" width="7" height="34" fill="#f23645"/>
<rect x="611" y="239" width="1" height="66" fill="#f23645"/>
<rect x="608" y="271" width="7" height="34" fill="#f23645"/>
<rect x="619" y="300" width="1" height="30" fill="#089981"/>
<rect x="616" y="312" width="7" height="18" fill="#089981"/>
<rect x="628" y="296" width="1" height="25" fill="#f23645"/>
<rect x="625" y="298" width="7" height="10" fill="#f23645"/>
<rect x="634" y="299" width="7" height="32" fill="#f23645"/>
<rect x="645" y="298" width="1" height="44" fill="#f23645"/>
<rect x="642" y="322" width="7" height="17" fill="#f23645"/>
<rect x="654" y="308" width="1" height="22" fill="#f23645"/>
<rect x="651" y="308" width="7" height="16" fill="#f23645"/>
<rect x="659" y="299" width="7" height="1" fill="#089981"/>
<rect x="668" y="278" width="7" height="1" fill="#089981"/>
<rect x="677" y="246" width="7" height="1" fill="#089981"/>
<rect x="685" y="215" width="7" height="1" fill="#089981"/>
<rect x="694" y="202" width="7" height="1" fill="#089981"/>
<rect x="705" y="172" width="1" height="56" fill="#f23645"/>
<rect x="702" y="172" width="7" height="50" fill="#f23645"/>
<rect x="714" y="182" width="1" height="41" fill="#f23645"/>
<rect x="711" y="199" width="7" height="15" fill="#f23645"/>
<rect x="722" y="192" width="1" height="42" fill="#f23645"/>
<rect x="719" y="208" width="7" height="17" fill="#f23645"/>
<rect x="731" y="198" width="1" height="24" fill="#f23645"/>
<rect x="728" y="205" width="7" height="7" fill="#f23645"/>
<rect x="740" y="198" width="1" height="15" fill="#089981"/>
<rect x="737" y="212" width="7" height="1" fill="#089981"/>
<rect x="745" y="242" width="7" height="1" fill="#089981"/>
<rect x="754" y="267" width="7" height="1" fill="#089981"/>
<rect x="762" y="299" width="7" height="1" fill="#089981"/>
<rect x="771" y="332" width="7" height="1" fill="#089981"/>
<rect x="783" y="288" width="1" height="54" fill="#089981"/>
<rect x="780" y="341" width="7" height="1" fill="#089981"/>
<rect x="791" y="340" width="1" height="30" fill="#f23645"/>
<rect x="788" y="355" width="7" height="15" fill="#f23645"/>
<rect x="800" y="369" width="1" height="29" fill="#089981"/>
<rect x="797" y="397" width="7" height="1" fill="#089981"/>
<rect x="808" y="407" width="1" height="4" fill="#089981"/>
<rect x="805" y="410" width="7" height="1" fill="#089981"/>
<rect x="817" y="378" width="1" height="34" fill="#089981"/>
<rect x="814" y="393" width="7" height="9" fill="#089981"/>
<rect x="825" y="384" width="1" height="47" fill="#089981"/>
<rect x="822" y="389" width="7" height="42" fill="#089981"/>
<rect x="834" y="377" width="1" height="17" fill="#f23645"/>
<rect x="831" y="389" width="7" height="5" fill="#f23645"/>
<rect x="843" y="370" width="1" height="26" fill="#089981"/>
<rect x="840" y="382" width="7" height="5" fill="#089981"/>
<rect x="851" y="363" width="1" height="34" fill="#089981"/>
<rect x="848" y="374" width="7" height="23" fill="#089981"/>
<rect x="860" y="359" width="1" height="30" fill="#f23645"/>
<rect x="857" y="379" width="7" height="10" fill="#f23645"/>
<rect x="868" y="371" width="1" height="36" fill="#089981"/>
<rect x="865" y="389" width="7" height="11" fill="#089981"/>
<rect x="877" y="370" width="1" height="34" fill="#089981"/>
<rect x="874" y="378" width="7" height="26" fill="#089981"/>
<rect x="883" y="347" width="7" height="22" fill="#f23645"/>
<rect x="894" y="338" width="1" height="42" fill="#f23645"/>
<rect x="891" y="346" width="7" height="34" fill="#f23645"/>
<rect x="903" y="348" width="1" height="54" fill="#f23645"/>
<rect x="900" y="400" width="7" height="2" fill="#f23645"/>
<rect x="911" y="404" width="1" height="15" fill="#f23645"/>
<rect x="908" y="415" width="7" height="4" fill="#f23645"/>
<rect x="917" y="433" width="7" height="2" fill="#f23645"/>
<rect x="925" y="457" width="7" height="1" fill="#089981"/>
<rect x="934" y="466" width="7" height="1" fill="#089981"/>
<rect x="946" y="466" width="1" height="34" fill="#089981"/>
<rect x="943" y="499" width="7" height="1" fill="#089981"/>
<rect x="954" y="451" width="1" height="38" fill="#f23645"/>
<rect x="951" y="482" width="7" height="7" fill="#f23645"/>
<rect x="963" y="476" width="1" height="34" fill="#f23645"/>
<rect x="960" y="478" width="7" height="17" fill="#f23645"/>
<rect x="968" y="494" width="7" height="37" fill="#f23645"/>
<rect x="980" y="530" width="1" height="31" fill="#089981"/>
<rect x="977" y="534" width="7" height="5" fill="#089981"/>
<rect x="986" y="505" width="7" height="34" fill="#089981"/>
<rect x="997" y="501" width="1" height="24" fill="#f23645"/>
<rect x="994" y="506" width="7" height="14" fill="#f23645"/>
<rect x="1006" y="501" width="1" height="39" fill="#f23645"/>
<rect x="1003" y="535" width="7" height="5" fill="#f23645"/>
<rect x="1011" y="552" width="7" height="19" fill="#f23645"/>
<rect x="1023" y="560" width="1" height="21" fill="#089981"/>
<rect x="1020" y="580" width="7" height="1" fill="#089981"/>
<rect x="1028" y="548" width="7" height="65" fill="#089981"/>
<rect x="1037" y="540" width="7" height="1" fill="#089981"/>
<rect x="1046" y="532" width="7" height="1" fill="#089981"/>
<rect x="1057" y="521" width="1" height="11" fill="#089981"/>
<rect x="1054" y="521" width="7" height="1" fill="#089981"/>
<rect x="1066" y="510" width="1" height="40" fill="#089981"/>
<rect x="1063" y="521" width="7" height="29" fill="#089981"/>
<rect x="1071" y="514" width="7" height="49" fill="#089981"/>
<rect x="1083" y="529" width="1" height="38" fill="#089981"/>
<rect x="1080" y="549" width="7" height="1" fill="#089981"/>
<rect x="1092" y="531" width="1" height="44" fill="#f23645"/>
<rect x="1089" y="550" width="7" height="2" fill="#f23645"/>
<rect x="1100" y="530" width="1" height="34" fill="#f23645"/>
<rect x="1097" y="530" width="7" height="22" fill="#f23645"/>
<rect x="1109" y="560" width="1" height="22" fill="#089981"/>
<rect x="1106" y="576" width="7" height="6" fill="#089981"/>
<rect x="1117" y="545" width="1" height="40" fill="#089981"/>
<rect x="1114" y="565" width="7" height="20" fill="#089981"/>
<rect x="1123" y="527" width="7" height="41" fill="#089981"/>
<rect x="1135" y="506" width="1" height="20" fill="#089981"/>
<rect x="1132" y="506" width="7" height="1" fill="#089981"/>
<rect x="1143" y="501" width="1" height="20" fill="#f23645"/>
<rect x="1140" y="501" width="7" height="1" fill="#f23645"/>
<rect x="1152" y="475" width="1" height="33" fill="#089981"/>
<rect x="1149" y="475" width="7" height="30" fill="#089981"/>
<rect x="1157" y="465" width="7" height="1" fill="#089981"/>
<rect x="1166" y="454" width="7" height="1" fill="#089981"/>
<rect x="1174" y="443" width="7" height="1" fill="#089981"/>
<rect x="1183" y="428" width="7" height="1" fill="#089981"/>
<rect x="1192" y="420" width="7" height="1" fill="#089981"/>
<rect x="1203" y="403" width="1" height="39" fill="#f23645"/>
<rect x="1200" y="403" width="7" height="21" fill="#f23645"/>
<rect x="1212" y="407" width="1" height="35" fill="#089981"/>
<rect x="1209" y="412" width="7" height="23" fill="#089981"/>
<rect x="1217" y="449" width="7" height="1" fill="#089981"/>
<rect x="1229" y="415" width="1" height="51" fill="#089981"/>
<rect x="1226" y="450" width="7" height="16" fill="#089981"/>
<rect x="1235" y="426" width="7" height="17" fill="#089981"/>
<rect x="1246" y="395" width="1" height="40" fill="#089981"/>
<rect x="1243" y="395" width="7" height="1" fill="#089981"/>
<rect x="1255" y="382" width="1" height="50" fill="#089981"/>
<rect x="1252" y="396" width="7" height="36" fill="#089981"/>
<rect x="1260" y="369" width="7" height="65" fill="#089981"/>
<rect x="1269" y="341" width="7" height="11" fill="#089981"/>
<rect x="1280" y="322" width="1" height="18" fill="#f23645"/>
<rect x="1277" y="322" width="7" height="2" fill="#f23645"/>
<rect x="1289" y="298" width="1" height="60" fill="#f23645"/>
<rect x="1286" y="337" width="7" height="19" fill="#f23645"/>
<rect x="1295" y="316" width="7" height="53" fill="#f23645"/>
<rect x="1303" y="321" width="7" height="57" fill="#089981"/>
<rect x="1315" y="307" width="1" height="21" fill="#089981"/>
<rect x="1312" y="310" width="7" height="12" fill="#089981"/>
<rect x="1323" y="311" width="1" height="41" fill="#f23645"/>
<rect x="1320" y="318" width="7" height="34" fill="#f23645"/>
<rect x="1332" y="314" width="1" height="17" fill="#089981"/>
<rect x="1329" y="314" width="7" height="9" fill="#089981"/>
<rect x="1341" y="283" width="1" height="37" fill="#089981"/>
<rect x="1338" y="297" width="7" height="23" fill="#089981"/>
<rect x="1349" y="254" width="1" height="55" fill="#089981"/>
<rect x="1346" y="271" width="7" height="38" fill="#089981"/>
<rect x="1355" y="247" width="7" height="35" fill="#089981"/>
<rect x="1366" y="223" width="1" height="51" fill="#089981"/>
<rect x="1363" y="236" width="7" height="12" fill="#089981"/>
<rect x="1375" y="240" width="1" height="38" fill="#089981"/>
<rect x="1372" y="264" width="7" height="14" fill="#089981"/>
<rect x="1383" y="248" width="1" height="35" fill="#089981"/>
<rect x="1380" y="248" width="7" height="30" fill="#089981"/>
<rect x="1392" y="226" width="1" height="58" fill="#089981"/>
<rect x="1389" y="226" width="7" height="52" fill="#089981"/>
<rect x="1401" y="195" width="1" height="22" fill="#089981"/>
<rect x="1398" y="195" width="7" height="4" fill="#089981"/>
<rect x="1406" y="174" width="7" height="47" fill="#f23645"/>
<rect x="1418" y="189" width="1" height="44" fill="#f23645"/>
<rect x="1415" y="220" width="7" height="13" fill="#f23645"/>
<rect x="1426" y="221" width="1" height="43" fill="#f23645"/>
<rect x="1423" y="224" width="7" height="40" fill="#f23645"/>
<rect x="1432" y="286" width="7" height="1" fill="#089981"/>
<rect x="1444" y="277" width="1" height="42" fill="#f23645"/>
<rect x="1441" y="316" width="7" height="3" fill="#f23645"/>
<rect x="1452" y="294" width="1" height="52" fill="#089981"/>
<rect x="1449" y="299" width="7" height="30" fill="#089981"/>
<rect x="1461" y="291" width="1" height="27" fill="#f23645"/>
<rect x="1458" y="291" width="7" height="9" fill="#f23645"/>
<rect x="1469" y="286" width="1" height="34" fill="#f23645"/>
<rect x="1466" y="288" width="7" height="18" fill="#f23645"/>
<rect x="1478" y="297" width="1" height="43" fill="#f23645"/>
<rect x="1475" y="305" width="7" height="35" fill="#f23645"/>
<rect x="1486" y="302" width="1" height="46" fill="#089981"/>
<rect x="1483" y="322" width="7" height="22" fill="#089981"/>
<rect x="1495" y="301" width="1" height="49" fill="#f23645"/>
<rect x="1492" y="301" width="7" height="33" fill="#f23645"/>
<rect x="1504" y="322" width="1" height="44" fill="#f23645"/>
<rect x="1501" y="353" width="7" height="13" fill="#f23645"/>
<rect x="1512" y="355" width="1" height="36" fill="#f23645"/>
<rect x="1509" y="384" width="7" height="2" fill="#f23645"/>
<rect x="1521" y="362" width="1" height="29" fill="#089981"/>
<rect x="1518" y="378" width="7" height="11" fill="#089981"/>
<rect x="1529" y="377" width="1" height="35" fill="#089981"/>
<rect x="1526" y="400" width="7" height="2" fill="#089981"/>
<rect x="1535" y="379" width="7" height="36" fill="#089981"/>
<rect x="1547" y="356" width="1" height="13" fill="#089981"/>
<rect x="1544" y="356" width="7" height="1" fill="#089981"/>
<rect x="1555" y="333" width="1" height="35" fill="#089981"/>
<rect x="1552" y="341" width="7" height="15" fill="#089981"/>
<rect x="1564" y="327" width="1" height="36" fill="#089981"/>
<rect x="1561" y="341" width="7" height="7" fill="#089981"/>
</g>
<line x1="8" y1="340.5" x2="1691" y2="340.5" stroke="#089981" stroke-width="1" stroke-dasharray="1 3" shape-rendering="crispEdges"/>
<circle cx="611.4" cy="222.8" r="3.6" fill="#1a7fdc"/>
<circle cx="353.4" cy="518.7" r="3.6" fill="#f2c31a"/>
</g>
<g font-family="Liberation Serif, serif" font-size="12" fill="#131722">
<text transform="translate(1699,27) scale(1,1.11)" stroke="#131722" stroke-width="0.25">4,000</text>
<text transform="translate(1699,82) scale(1,1.11)" stroke="#131722" stroke-width="0.25">3,800</text>
<text transform="translate(1699,140) scale(1,1.11)" stroke="#131722" stroke-width="0.25">3,600</text>
<text transform="translate(1699,170) scale(1,1.11)" stroke="#131722" stroke-width="0.25">3,500</text>
<text transform="translate(1699,201.5) scale(1,1.11)" stroke="#131722" stroke-width="0.25">3,400</text>
<text transform="translate(1699,233.5) scale(1,1.11)" stroke="#131722" stroke-width="0.25">3,300</text>
<text transform="translate(1699,267) scale(1,1.11)" stroke="#131722" stroke-width="0.25">3,200</text>
<text transform="translate(1699,301.5) scale(1,1.11)" stroke="#131722" stroke-width="0.25">3,100</text>
<text transform="translate(1699,336.5) scale(1,1.11)" stroke="#131722" stroke-width="0.25">3,000</text>
<text transform="translate(1699,380.5) scale(1,1.11)" stroke="#131722" stroke-width="0.25">2,880</text>
<text transform="translate(1699,410.5) scale(1,1.11)" stroke="#131722" stroke-width="0.25">2,800</text>
<text transform="translate(1699,441.5) scale(1,1.11)" stroke="#131722" stroke-width="0.25">2,720</text>
<text transform="translate(1699,474.5) scale(1,1.11)" stroke="#131722" stroke-width="0.25">2,640</text>
<text transform="translate(1699,505.5) scale(1,1.11)" stroke="#131722" stroke-width="0.25">2,565</text>
<text transform="translate(1699,537.5) scale(1,1.11)" stroke="#131722" stroke-width="0.25">2,490</text>
<text transform="translate(1699,572.5) scale(1,1.11)" stroke="#131722" stroke-width="0.25">2,410</text>
<text transform="translate(1699,608.5) scale(1,1.11)" stroke="#131722" stroke-width="0.25">2,330</text>
<text transform="translate(1699,646.5) scale(1,1.11)" stroke="#131722" stroke-width="0.25">2,250</text>
<text transform="translate(1699,680.5) scale(1,1.11)" stroke="#131722" stroke-width="0.25">2,180</text>
<text transform="translate(1699,710) scale(1,1.11)" stroke="#131722" stroke-width="0.25">2,120</text>
<text transform="translate(1699,741.5) scale(1,1.11)" stroke="#131722" stroke-width="0.25">2,060</text>
</g>
<path d="M1691 262h38a2 2 0 0 1 2 2v13a2 2 0 0 1 -2 2h-38z" fill="#2962ff"/>
<text transform="translate(1699,274.0) scale(1,1.11)" font-family="Liberation Serif, serif" font-size="12" fill="#fff" stroke="#fff" stroke-width="0.25">3,137</text>
<path d="M1691 279h38a2 2 0 0 1 2 2v13a2 2 0 0 1 -2 2h-38z" fill="#2196f3"/>
<text transform="translate(1699,291.0) scale(1,1.11)" font-family="Liberation Serif, serif" font-size="12" fill="#fff" stroke="#fff" stroke-width="0.25">3,089</text>
<path d="M1691 296h38a2 2 0 0 1 2 2v13a2 2 0 0 1 -2 2h-38z" fill="#2962ff"/>
<text transform="translate(1699,308.0) scale(1,1.11)" font-family="Liberation Serif, serif" font-size="12" fill="#fff" stroke="#fff" stroke-width="0.25">3,082</text>
<path d="M1691 313.5h38a2 2 0 0 1 2 2v12.5a2 2 0 0 1 -2 2h-38z" fill="#a5d6a7"/>
<text transform="translate(1699,325.5) scale(1,1.11)" font-family="Liberation Serif, serif" font-size="12" fill="#131722" stroke="#131722" stroke-width="0.25">3,033</text>
<path d="M1691 332h38a2 2 0 0 1 2 2v12.5a2 2 0 0 1 -2 2h-38z" fill="#089981"/>
<text transform="translate(1699,344.0) scale(1,1.11)" font-family="Liberation Serif, serif" font-size="12" fill="#fff" stroke="#fff" stroke-width="0.25">2,980</text>
<path d="M1691 349h38a2 2 0 0 1 2 2v13a2 2 0 0 1 -2 2h-38z" fill="#faa1a4"/>
<text transform="translate(1699,361.0) scale(1,1.11)" font-family="Liberation Serif, serif" font-size="12" fill="#131722" stroke="#131722" stroke-width="0.25">2,946</text>
<path d="M1691 366h38a2 2 0 0 1 2 2v13a2 2 0 0 1 -2 2h-38z" fill="#2962ff"/>
<text transform="translate(1699,378.0) scale(1,1.11)" font-family="Liberation Serif, serif" font-size="12" fill="#fff" stroke="#fff" stroke-width="0.25">2,917</text>
<path d="M1691 401h38a2 2 0 0 1 2 2v13a2 2 0 0 1 -2 2h-38z" fill="#2962ff"/>
<text transform="translate(1699,413.0) scale(1,1.11)" font-family="Liberation Serif, serif" font-size="12" fill="#fff" stroke="#fff" stroke-width="0.25">2,795</text>
<path d="M1691 736h49a2 2 0 0 1 2 2v14h-51z" fill="#26a69a"/>
<text transform="translate(1699,748.5) scale(1,1.11)" font-family="Liberation Serif, serif" font-size="12" fill="#fff" stroke="#fff" stroke-width="0.25">3.134M</text>
</svg>
<div class="lg"><span style="right:1691.5px;top:18.0px;color:#131722;transform:scaleY(1.12);transform-origin:0 11px;direction:rtl;font-size:10px;">کاذر, بورس</span><span style="right:1674.4px;top:18.0px;color:#131722;transform:scaleY(1.12);transform-origin:0 11px;font-size:9.8px;">باز</span><span class="n" style="left:83.2px;top:18.0px;color:#089981;">2,962</span><span style="right:1610.8px;top:18.0px;color:#131722;transform:scaleY(1.12);transform-origin:0 11px;font-size:8.9px;">بیشترین</span><span class="n" style="left:146.8px;top:18.0px;color:#089981;">3,016</span><span style="right:1550.6px;top:18.0px;color:#131722;transform:scaleY(1.12);transform-origin:0 11px;font-size:9.1px;">کمترین</span><span class="n" style="left:207.2px;top:18.0px;color:#089981;">2,921</span><span style="right:1493.7px;top:18.0px;color:#131722;transform:scaleY(1.12);transform-origin:0 11px;font-size:9.5px;">آخرین</span><span class="n" style="left:264.1px;top:18.0px;color:#089981;">2,980</span><span style="right:1722.2px;top:35.0px;color:#131722;transform:scaleY(1.12);transform-origin:0 11px;font-size:8.8px;">حجم</span><span class="n" style="left:40.7px;top:35.0px;color:#26a69a;">3.134M</span><span class="n" style="left:17.9px;top:52.0px;color:#131722;">MA</span><span class="n" style="left:43px;top:52.0px;color:#2196f3;">3,089</span><span class="n" style="left:17.9px;top:69.0px;color:#131722;">Ichimoku</span><span class="n" style="left:70px;top:69.0px;color:#a5d6a7;">3,033</span><span class="n" style="left:102.5px;top:69.0px;color:#faa1a4;">2,946</span></div>
<div class="tl"><div style="left:62.5px;top:759.0px"><i style="font-size:9.2px;position:relative;top:-1.6px;transform:scaleY(1.22);transform-origin:0 11px;font-weight:bold;">بهمن</i></div><div style="left:207.5px;top:759.0px"><i style="font-size:9.2px;position:relative;top:-1.6px;transform:scaleY(1.22);transform-origin:0 11px;font-weight:bold;">اسفند</i></div><div style="left:319.5px;top:759.0px"><i style="font-size:9.2px;position:relative;top:-1.6px;transform:scaleY(1.22);transform-origin:0 11px;font-weight:bold;">فروردین</i></div><div style="left:405.5px;top:759.0px"><i style="font-size:9.2px;position:relative;top:-0.6px;transform:scaleY(1.22);transform-origin:0 11px">فروردین</i>&nbsp;<i class="n">30</i></div><div style="left:491.5px;top:759.0px"><i style="font-size:9.2px;position:relative;top:-1.6px;transform:scaleY(1.22);transform-origin:0 11px;font-weight:bold;">اردیبهشت</i></div><div style="left:620.5px;top:759.0px"><i style="font-size:9.2px;position:relative;top:-1.6px;transform:scaleY(1.22);transform-origin:0 11px;font-weight:bold;">خرداد</i></div><div style="left:714.5px;top:759.0px"><i style="font-size:9.2px;position:relative;top:-1.6px;transform:scaleY(1.22);transform-origin:0 11px;font-weight:bold;">تیر</i></div><div style="left:800.5px;top:759.0px"><i style="font-size:9.2px;position:relative;top:-0.6px;transform:scaleY(1.22);transform-origin:0 11px">تیر</i>&nbsp;<i class="n">28</i></div><div style="left:886.5px;top:759.0px"><i style="font-size:9.2px;position:relative;top:-1.6px;transform:scaleY(1.22);transform-origin:0 11px;font-weight:bold;">مرداد</i></div><div style="left:971.5px;top:759.0px"><i style="font-size:9.2px;position:relative;top:-0.6px;transform:scaleY(1.22);transform-origin:0 11px">مرداد</i>&nbsp;<i class="n">25</i></div><div style="left:1066.5px;top:759.0px"><i style="font-size:9.2px;position:relative;top:-1.6px;transform:scaleY(1.22);transform-origin:0 11px;font-weight:bold;">شهریور</i></div><div style="left:1152.5px;top:759.0px"><i style="font-size:9.2px;position:relative;top:-0.6px;transform:scaleY(1.22);transform-origin:0 11px">شهریور</i>&nbsp;<i class="n">26</i></div><div style="left:1238.5px;top:759.0px"><i style="font-size:9.2px;position:relative;top:-1.6px;transform:scaleY(1.22);transform-origin:0 11px;font-weight:bold;">مهر</i></div><div style="left:1323.5px;top:759.0px"><i style="font-size:9.2px;position:relative;top:-0.6px;transform:scaleY(1.22);transform-origin:0 11px">مهر</i>&nbsp;<i class="n">23</i></div><div style="left:1418.5px;top:759.0px"><i style="font-size:9.2px;position:relative;top:-1.6px;transform:scaleY(1.22);transform-origin:0 11px;font-weight:bold;">آبان</i></div><div style="left:1504.5px;top:759.0px"><i style="font-size:9.2px;position:relative;top:-0.6px;transform:scaleY(1.22);transform-origin:0 11px">آبان</i>&nbsp;<i class="n">24</i></div><div style="left:1607.5px;top:759.0px"><i style="font-size:9.2px;position:relative;top:-1.6px;transform:scaleY(1.22);transform-origin:0 11px;">آذر</i></div></div>
</body></html>
